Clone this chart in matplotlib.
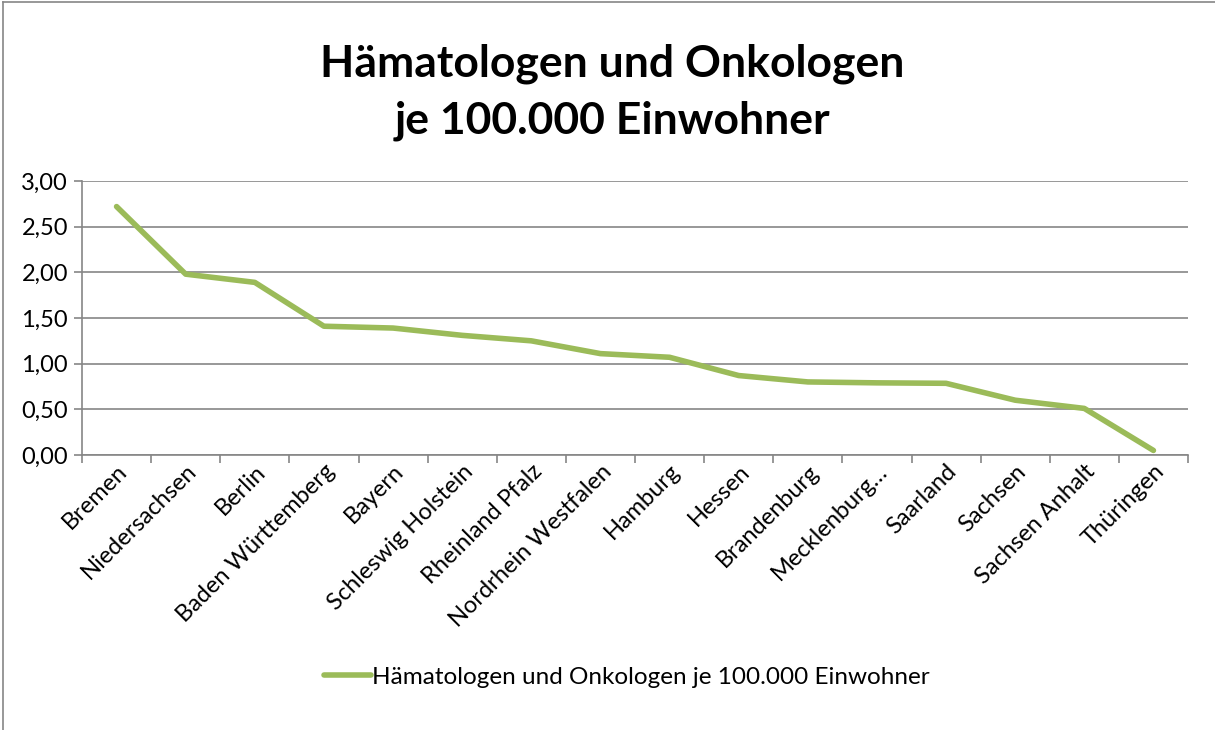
import numpy as np
import matplotlib.pyplot as plt
from matplotlib.lines import Line2D
from matplotlib.ticker import FuncFormatter

LAENDER = [
	"Bremen", "Niedersachsen", "Berlin", "Baden Württemberg", "Bayern",
	"Schleswig Holstein", "Rheinland Pfalz", "Nordrhein Westfalen", "Hamburg",
	"Hessen", "Brandenburg", "Mecklenburg…", "Saarland", "Sachsen",
	"Sachsen Anhalt", "Thüringen",
]
WERTE = [2.72, 1.98, 1.89, 1.41, 1.39, 1.31, 1.25, 1.11, 1.07,
	0.87, 0.80, 0.79, 0.785, 0.60, 0.51, 0.05]
Y_TICKS = [0.0, 0.5, 1.0, 1.5, 2.0, 2.5, 3.0]
SERIE = "Hämatologen und Onkologen je 100.000 Einwohner"
TITEL = "Hämatologen und Onkologen\nje 100.000 Einwohner"

GRUEN = "#9BBB59"
GRAU = "#868686"

plt.rcParams["font.family"] = ["Lato", "DejaVu Sans"]

W, H = 1215, 730
fig = plt.figure(figsize=(W / 100, H / 100), dpi=100)
ax = fig.add_axes([82 / W, 1 - 455 / H, (1188 - 82) / W, (455 - 181) / H])

x = np.arange(len(LAENDER))
ax.plot(x, WERTE, color=GRUEN, lw=4, solid_capstyle="round", solid_joinstyle="round", label=SERIE)

ax.set_xlim(-0.5, len(LAENDER) - 0.5)
ax.set_ylim(0, 3)
ax.set_yticks(Y_TICKS)
ax.yaxis.set_major_formatter(FuncFormatter(lambda v, _: f"{v:.2f}".replace(".", ",")))
ax.grid(axis="y", color=GRAU, lw=1.2)
ax.set_axisbelow(True)

# ticks between categories, labels at centres
ax.set_xticks(np.arange(-0.5, len(LAENDER)), labels=[])
ax.set_xticks(x, minor=True)
ax.set_xticklabels(LAENDER, minor=True, rotation=45, ha="right", va="top",
	rotation_mode="anchor", fontsize=17)
ax.tick_params(axis="x", which="minor", length=0, pad=4)
ax.tick_params(axis="x", which="major", length=6, color=GRAU, width=1.2)
ax.tick_params(axis="y", length=6, color=GRAU, width=1.2, labelsize=17, pad=4)

for side in ["top", "right"]:
	ax.spines[side].set_visible(False)
for side in ["left", "bottom"]:
	ax.spines[side].set_color(GRAU)
	ax.spines[side].set_linewidth(1.2)

fig.text(0.504, 1 - 92 / H, TITEL, ha="center", va="center", fontsize=32,
	fontweight="bold", linespacing=1.5)

fig.legend(loc="center", bbox_to_anchor=(627 / W, 1 - 677 / H), frameon=False,
	fontsize=17.5, handlelength=1.9, handletextpad=0.05)

fig.add_artist(Line2D([3 / W, 3 / W], [0, 1 - 2 / H], color=GRAU, lw=1.2))
fig.add_artist(Line2D([3 / W, 1], [1 - 2 / H, 1 - 2 / H], color=GRAU, lw=1.2))

fig.savefig("out.png", dpi=100)
